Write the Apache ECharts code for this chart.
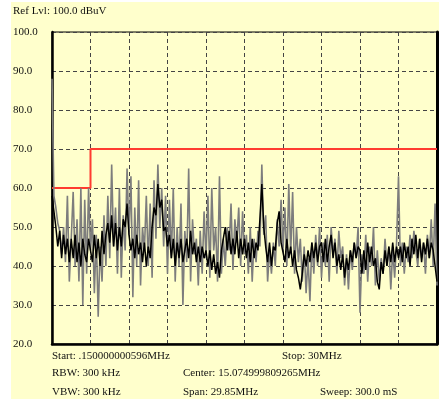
<!DOCTYPE html>
<html>
<head>
<meta charset="utf-8">
<script src="https://cdn.jsdelivr.net/npm/echarts@6/dist/echarts.min.js"></script>
<style>
html,body{margin:0;padding:0;background:#fff;}
#bg{position:absolute;left:11px;top:2px;width:428px;height:397px;background:#FFFFCC;}
#chart{position:absolute;left:0;top:0;width:439px;height:401px;}
</style>
</head>
<body>
<div id="bg"></div>
<div id="chart"></div>
<script>
// Sweep settings
const startFreq = 0.15;   // MHz
const stopFreq = 30;      // MHz
const sweepPoints = 201;
// Y scale labels
const levelTicks = [20, 30, 40, 50, 60, 70, 80, 90, 100];
// Limit line (MHz, dBuV)
const limitFreq = [0.15, 3.135, 3.135, 30];
const limitLevel = [60, 60, 70, 70];
// Trace: spike envelope (gray)
const traceGray = [
  88, 58, 55, 51, 49, 43, 50, 41, 58, 36,
  47, 59, 40, 52, 36, 60, 30, 57, 38, 60,
  44, 52, 33, 48, 27, 45, 36, 53, 40, 58,
  42, 66, 45, 55, 38, 60, 37, 53, 44, 65,
  48, 63, 32, 55, 40, 62, 35, 50, 44, 58,
  40, 56, 37, 62, 47, 66, 50, 60, 45, 58,
  38, 57, 42, 60, 36, 50, 40, 56, 30, 49,
  41, 65, 36, 52, 43, 47, 35, 49, 38, 54,
  42, 58, 37, 60, 44, 50, 36, 63, 38, 47,
  40, 50, 44, 56, 39, 52, 46, 55, 40, 54,
  43, 48, 38, 50, 36, 47, 41, 49, 45, 66,
  48, 53, 36, 44, 38, 46, 40, 52, 45, 57,
  44, 55, 40, 61, 43, 59, 38, 50, 41, 47,
  36, 45, 33, 42, 31, 46, 38, 48, 40, 50,
  37, 46, 40, 48, 36, 50, 43, 47, 38, 49,
  42, 45, 35, 43, 34, 44, 39, 46, 42, 50,
  28, 43, 38, 48, 36, 45, 40, 50, 35, 44,
  36, 42, 38, 47, 40, 45, 34, 44, 37, 46,
  63, 40, 46, 38, 45, 41, 48, 42, 49, 44,
  40, 47, 42, 46, 38, 48, 42, 52, 40, 56, 35
];
// Trace: dense core (black)
const traceBlack = [
  58, 54, 50, 45, 49, 42, 48, 43, 47, 41,
  47, 42, 48, 41, 46, 40, 47, 43, 41, 47,
  44, 41, 48, 42, 47, 40, 49, 43, 48, 51,
  46, 53, 45, 51, 44, 50, 45, 52, 50, 56,
  48, 44, 47, 42, 48, 43, 46, 41, 46, 40,
  45, 42, 50, 55, 53, 61, 55, 57, 49, 50,
  45, 48, 42, 47, 40, 46, 42, 47, 41, 44,
  47, 42, 49, 43, 46, 41, 45, 41, 45, 42,
  44, 40, 44, 39, 43, 38, 41, 37, 44, 47,
  50, 44, 49, 43, 47, 43, 49, 42, 47, 43,
  47, 42, 46, 41, 47, 42, 46, 44, 52, 61,
  50, 45, 41, 46, 40, 45, 44, 51, 54, 46,
  46, 41, 47, 42, 45, 40, 44, 39, 37, 34,
  38, 43, 40, 44, 41, 46, 42, 46, 41, 45,
  46, 41, 47, 41, 45, 48, 42, 46, 40, 43,
  39, 43, 37, 42, 39, 44, 41, 46, 42, 45,
  44, 38, 44, 39, 46, 41, 45, 40, 42, 36,
  34, 41, 38, 44, 40, 45, 41, 46, 41, 45,
  42, 45, 41, 46, 42, 45, 40, 47, 43, 48,
  42, 47, 41, 46, 43, 47, 42, 46, 44, 40, 36
];
// Annotation texts
const refText = 'Ref Lvl: 100.0 dBuV';
const startText = 'Start: .150000000596MHz';
const stopText = 'Stop: 30MHz';
const rbwText = 'RBW: 300 kHz';
const centerText = 'Center: 15.074999809265MHz';
const vbwText = 'VBW: 300 kHz';
const spanText = 'Span: 29.85MHz';
const sweepText = 'Sweep: 300.0 mS';

const step = (stopFreq - startFreq) / (sweepPoints - 1);
const freqs = traceGray.map((_, i) => startFreq + i * step);
const grayData = traceGray.map((v, i) => [freqs[i], v]);
const blackData = traceBlack.map((v, i) => [freqs[i], v]);
const limitData = limitFreq.map((f, i) => [f, limitLevel[i]]);

const font = '"Liberation Serif", "DejaVu Serif", serif';
const txtColor = '#111';
function txt(x, y, s) {
  return {type: 'text', left: x, top: y, style: {text: s, font: '11px ' + font, fill: txtColor}};
}

const chart = echarts.init(document.getElementById('chart'), null, {renderer: 'canvas'});
chart.setOption({
  backgroundColor: 'transparent',
  animation: false,
  grid: {left: 52, right: 2, top: 32, bottom: 57, show: true, borderColor: '#000', borderWidth: 1, backgroundColor: 'transparent'},
  xAxis: [
    {type: 'value', min: startFreq, max: stopFreq, show: true,
     axisLine: {show: true, lineStyle: {color: '#000', width: 2.5}},
     axisTick: {show: false}, axisLabel: {show: false}, splitLine: {show: false}},
    {type: 'value', min: 0, max: 10, interval: 1, position: 'bottom',
     axisLine: {show: false}, axisTick: {show: false}, axisLabel: {show: false},
     splitLine: {show: true, lineStyle: {color: '#444', width: 1, type: [4, 3]}}}
  ],
  yAxis: [
    {type: 'value', min: levelTicks[0], max: levelTicks[levelTicks.length - 1], interval: 10,
     axisLine: {show: true, lineStyle: {color: '#000', width: 2.5}},
     axisTick: {show: false},
     axisLabel: {show: true, align: 'left', margin: 39, color: txtColor, fontFamily: font, fontSize: 11,
                 formatter: v => v.toFixed(1)},
     splitLine: {show: true, lineStyle: {color: '#444', width: 1, type: [4, 3]}}},
    {type: 'value', min: 20, max: 100, position: 'right',
     axisLine: {show: true, lineStyle: {color: '#000', width: 3}},
     axisTick: {show: false}, axisLabel: {show: false}, splitLine: {show: false}}
  ],
  series: [
    {type: 'line', xAxisIndex: 0, yAxisIndex: 0, data: limitData, symbol: 'none',
     lineStyle: {color: '#ff3b30', width: 2}, z: 1},
    {type: 'line', xAxisIndex: 0, yAxisIndex: 0, data: grayData, symbol: 'none',
     lineStyle: {color: '#7d7d7d', width: 1.6}, z: 2},
    {type: 'line', xAxisIndex: 0, yAxisIndex: 0, data: blackData, symbol: 'none',
     lineStyle: {color: '#000', width: 1.5}, z: 3}
  ],
  graphic: [
    txt(13, 6, refText),
    txt(52, 351, startText),
    txt(282, 351, stopText),
    txt(52, 368, rbwText),
    txt(183, 368, centerText),
    txt(52, 387, vbwText),
    txt(183, 387, spanText),
    txt(320, 387, sweepText)
  ]
});
</script>
</body>
</html>
